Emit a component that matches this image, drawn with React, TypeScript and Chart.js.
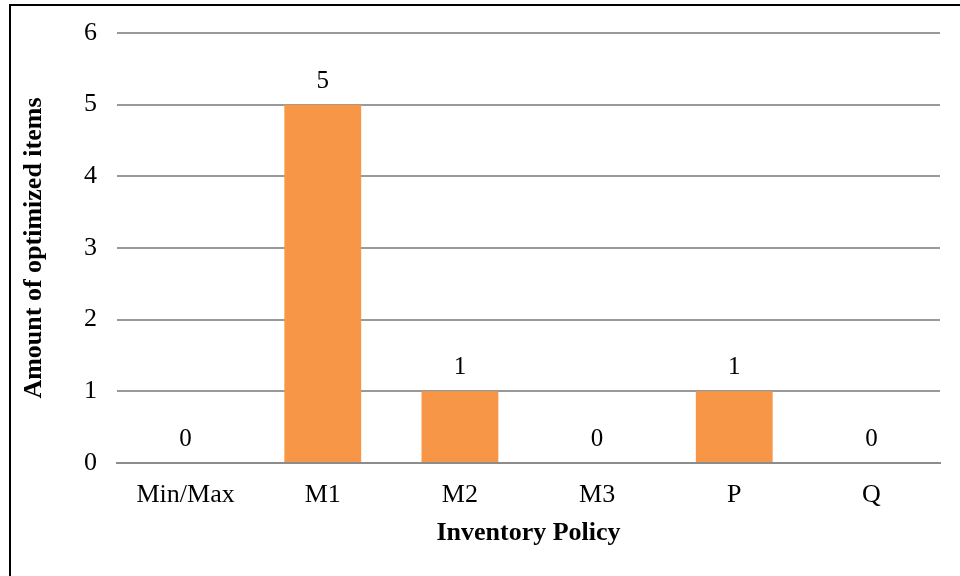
import React, { useEffect, useRef } from "react";
import { Chart, registerables } from "chart.js";

Chart.register(...registerables);

const categories = ["Min/Max", "M1", "M2", "M3", "P", "Q"];
const values = [0, 5, 1, 0, 1, 0];
const yTicks = [0, 1, 2, 3, 4, 5, 6];
const xTitle = "Inventory Policy";
const yTitle = "Amount of optimized items";

const FONT = "'Liberation Serif', 'Times New Roman', serif";

const framePlugin = {
  id: "frame",
  beforeDraw(chart: any) {
    const ctx = chart.ctx;
    ctx.save();
    ctx.fillStyle = "#ffffff";
    ctx.fillRect(0, 0, chart.width, chart.height);
    ctx.strokeStyle = "#000000";
    ctx.lineWidth = 2;
    ctx.beginPath();
    ctx.moveTo(10, chart.height);
    ctx.lineTo(10, 5);
    ctx.lineTo(chart.width, 5);
    ctx.stroke();
    ctx.restore();
  },
};

const labelPlugin = {
  id: "valueLabels",
  afterDatasetsDraw(chart: any) {
    const ctx = chart.ctx;
    const meta = chart.getDatasetMeta(0);
    ctx.save();
    ctx.font = `25px ${FONT}`;
    ctx.fillStyle = "#000000";
    ctx.textAlign = "center";
    ctx.textBaseline = "alphabetic";
    meta.data.forEach((bar: any, i: number) => {
      const v = chart.data.datasets[0].data[i];
      ctx.fillText(String(v), bar.x, bar.y - 17);
    });
    ctx.restore();
  },
};

export default function App() {
  const ref = useRef<HTMLCanvasElement>(null);
  useEffect(() => {
    if (!ref.current) return;
    const chart = new Chart(ref.current, {
      type: "bar",
      data: {
        labels: categories,
        datasets: [
          {
            data: values,
            backgroundColor: "#F79646",
            borderWidth: 0,
            categoryPercentage: 1,
            barPercentage: 0.56,
          },
        ],
      },
      options: {
        animation: false,
        responsive: false,
        maintainAspectRatio: false,
        layout: { padding: { left: 10, right: 20, top: 33, bottom: 0 } },
        plugins: {
          legend: { display: false },
          tooltip: { enabled: false },
        },
        scales: {
          x: {
            grid: { display: false, drawTicks: false },
            border: { display: true, color: "#8c8c8c", width: 2 },
            ticks: {
              color: "#000",
              font: { family: FONT, size: 26 },
              padding: 17,
              maxRotation: 0,
            },
            title: {
              display: true,
              text: xTitle,
              color: "#000",
              font: { family: FONT, size: 26, weight: "bold" },
              padding: { top: 0, bottom: 27 },
            },
            afterFit(scale: any) {
              scale.height = 113;
              scale.paddingLeft = 0;
              scale.paddingRight = 0;
            },
          },
          y: {
            min: 0,
            max: 6,
            afterBuildTicks(scale: any) {
              scale.ticks = yTicks.map((v) => ({ value: v }));
            },
            grid: { color: "#999999", lineWidth: 2, drawTicks: false },
            border: { display: false },
            ticks: {
              color: "#000",
              font: { family: FONT, size: 26 },
              padding: 20,
            },
            title: {
              display: true,
              text: yTitle,
              color: "#000",
              font: { family: FONT, size: 26, weight: "bold" },
              padding: { top: 9, bottom: 0 },
            },
            afterFit(scale: any) {
              scale.width = 107;
              scale.paddingTop = 0;
              scale.paddingBottom = 0;
            },
          },
        },
      },
      plugins: [framePlugin, labelPlugin],
    });
    return () => chart.destroy();
  }, []);
  return (
    <div style={{ position: "absolute", left: 0, top: 0, width: 960, height: 576 }}>
      <canvas ref={ref} width={960} height={576} style={{ width: 960, height: 576, display: "block" }} />
    </div>
  );
}
